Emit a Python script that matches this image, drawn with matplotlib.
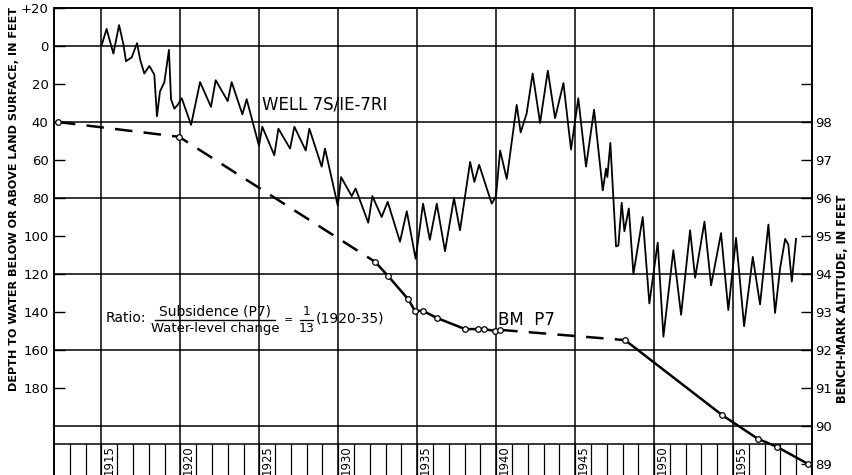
import numpy as np
import matplotlib.pyplot as plt

# well 7S/1E-7R1 hydrograph: depth to water, ft (negative = above land surface)
well_years = [1915.0, 1915.33, 1915.76, 1916.12, 1916.39, 1916.56, 1916.92, 1917.26, 1917.45,
              1917.72, 1918.04, 1918.35, 1918.52, 1918.71, 1918.99, 1919.28, 1919.41, 1919.62,
              1919.83, 1920.09, 1920.68, 1921.25, 1921.94, 1922.24, 1923.0, 1923.25, 1923.93,
              1924.2, 1924.98, 1925.19, 1925.95, 1926.21, 1926.95, 1927.22, 1927.94, 1928.17,
              1928.95, 1929.16, 1929.97, 1930.18, 1930.85, 1931.1, 1931.9, 1932.16, 1932.75,
              1933.13, 1933.91, 1934.34, 1934.9, 1935.37, 1935.8, 1936.24, 1936.76, 1937.33,
              1937.71, 1938.35, 1938.62, 1938.92, 1939.72, 1939.99, 1940.25, 1940.67, 1941.3,
              1941.55, 1941.93, 1942.31, 1942.78, 1943.27, 1943.73, 1944.26, 1944.74, 1945.2,
              1945.69, 1946.2, 1946.75, 1946.96, 1947.04, 1947.23, 1947.59, 1947.74, 1947.95,
              1948.12, 1948.4, 1948.69, 1949.28, 1949.7, 1950.23, 1950.59, 1951.22, 1951.71,
              1952.28, 1952.6, 1953.19, 1953.61, 1954.24, 1954.7, 1955.19, 1955.7, 1956.25,
              1956.71, 1957.24, 1957.66, 1957.98, 1958.3, 1958.5, 1958.72, 1958.99]
well_depth = [0, -9, 4, -11, -1, 8, 6, -1.5, 7,
              14.5, 10.5, 15, 37, 24, 19, 2, 28, 33,
              31, 27.5, 41.5, 19, 32, 18, 29, 19, 36,
              28, 52.5, 42.5, 57.5, 43.5, 54, 42.5, 55, 43.5,
              63.5, 54, 84, 69, 79, 75, 93, 79, 90,
              82, 103, 87, 112, 83, 102, 83, 108, 80,
              97, 61, 71.5, 62.5, 83, 79, 55, 70, 31,
              45.5, 35.5, 14.5, 40.5, 13, 38, 19.5, 54.5, 27.5,
              63.5, 33.5, 76, 64.5, 69, 51, 105.5, 105, 82.5,
              97.5, 85.5, 120, 90, 135.5, 103.5, 153, 107.5, 141.5,
              97, 122, 92.5, 126, 98.5, 139, 101, 147.5, 111,
              136, 94, 140.5, 117, 101.5, 104.5, 124, 101.5]

# bench mark P7 altitude, ft
bm_years = [1912.25, 1919.92, 1932.33, 1933.15, 1934.42, 1934.86, 1935.37, 1936.26, 1938.03,
            1938.85, 1939.23, 1939.93, 1940.25, 1948.16, 1954.3, 1956.58, 1957.79, 1959.75]
bm_alt = [98.0, 97.61, 94.32, 93.95, 93.34, 93.03, 93.03, 92.84, 92.55,
          92.55, 92.55, 92.5, 92.53, 92.26, 90.29, 89.66, 89.45, 89.0]
# (start, end, dashed) index ranges of the BM line
bm_segments = [(0, 2, True), (2, 12, False), (12, 13, True), (13, 17, False)]

depth_ticks = [-20, 0, 20, 40, 60, 80, 100, 120, 140, 160, 180]
depth_labels = ["+20", "0", "20", "40", "60", "80", "100", "120", "140", "160", "180"]
alt_ticks = [89, 90, 91, 92, 93, 94, 95, 96, 97, 98, 99]
alt_labels = ["89", "90", "91", "92", "93", "94", "95", "96", "97", "98", ""]
label_years = [1915, 1920, 1925, 1930, 1935, 1940, 1945, 1950, 1955]

depth_top, depth_bottom = -20, 225.8
strip_top = 209.5

fig = plt.figure(figsize=(8.52, 4.75), dpi=100)
ax = fig.add_axes([54 / 852, 0, 758 / 852, 467 / 475])
ax.set_xlim(1912, 1960)
ax.set_ylim(depth_bottom, depth_top)

# grid
for d in [0, 40, 80, 120, 160, 200]:
    ax.axhline(d, color="black", lw=1.1, zorder=1)
for yr in range(1915, 1960, 5):
    ax.axvline(yr, color="black", lw=1.1, zorder=1)

# year strip along the bottom
ax.axhline(strip_top, color="black", lw=1.1, zorder=1)
ax.vlines(np.arange(1913, 1960), strip_top, depth_bottom, color="black", lw=0.9)
for yr in label_years:
    ax.text(yr + 0.5, strip_top + 0.8, str(yr), rotation=90, ha="center", va="top",
            fontsize=8.4)

ax.plot(well_years, well_depth, color="black", lw=1.3, zorder=3)

ax.set_xticks([])
ax.set_yticks(depth_ticks)
ax.set_yticklabels(depth_labels, fontsize=9.5)
ax.tick_params(axis="y", direction="in", length=8, width=1.0, pad=4)
ax.spines["bottom"].set_visible(False)
for s in ["left", "right", "top"]:
    ax.spines[s].set_linewidth(1.2)

ax2 = ax.twinx()
ax2.set_ylim(100 - depth_bottom / 20, 100 - depth_top / 20)
ax2.set_yticks(alt_ticks)
ax2.set_yticklabels(alt_labels, fontsize=9.5)
ax2.tick_params(axis="y", direction="in", length=8, width=1.0, pad=2)
ax2.spines["bottom"].set_visible(False)
for s in ["left", "right", "top"]:
    ax2.spines[s].set_linewidth(1.2)

for i0, i1, dashed in bm_segments:
    line, = ax2.plot(bm_years[i0:i1 + 1], bm_alt[i0:i1 + 1], color="black", lw=1.8,
                     dash_capstyle="butt", zorder=3)
    if dashed:
        line.set_dashes([7, 4.5])
ax2.plot(bm_years, bm_alt, ls="none", marker="o", ms=4, mfc="white", mec="black",
         mew=0.9, zorder=4)

# annotations
ax.text(1925.17, 31, "WELL 7S/IE-7RI", fontsize=12, ha="left", va="center")
ax.text(1940.12, 144.2, "BM  P7", fontsize=12, ha="left", va="center")

ax.text(1915.29, 143.2, "Ratio:", fontsize=10, ha="left", va="center")
ax.text(1922.2, 139.5, "Subsidence (P7)", fontsize=10, ha="center", va="center")
ax.plot([1918.4, 1926.0], [144.2, 144.2], color="black", lw=1.0)
ax.text(1922.2, 148.6, "Water-level change", fontsize=9.5, ha="center", va="center")
ax.text(1926.85, 144.4, "=", fontsize=8, ha="center", va="center")
ax.text(1927.98, 139.5, "1", fontsize=9, ha="center", va="center")
ax.plot([1927.55, 1928.4], [144.2, 144.2], color="black", lw=0.9)
ax.text(1927.98, 148.6, "13", fontsize=9, ha="center", va="center")
ax.text(1928.6, 143.4, "(1920-35)", fontsize=10, ha="left", va="center")

fig.text(14 / 852, 1 - 199 / 475, "DEPTH TO WATER BELOW OR ABOVE LAND SURFACE, IN FEET",
         rotation=90, ha="center", va="center", fontsize=8.1, fontweight="bold")
fig.text(843 / 852, 1 - 299 / 475, "BENCH-MARK ALTITUDE, IN FEET",
         rotation=90, ha="center", va="center", fontsize=8.3, fontweight="bold")

fig.savefig("out.png", dpi=100)
